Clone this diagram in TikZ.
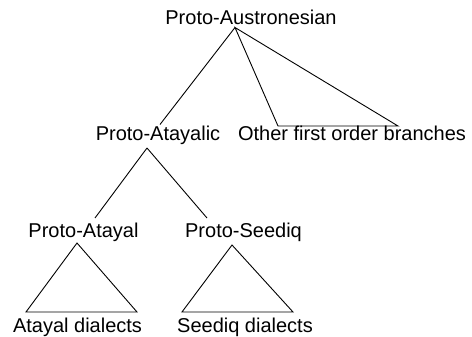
\documentclass[tikz,border=0pt]{standalone}
\usepackage{fontspec}
\setmainfont{Liberation Sans}
\begin{document}
\begin{tikzpicture}[x=1pt,y=-1pt,
  lbl/.style={font=\fontsize{20}{22}\selectfont, inner sep=0pt, anchor=base},
  edge/.style={line width=0.9pt, line join=miter}]
\useasboundingbox (0,0) rectangle (472,337);

% labels
\node[lbl] (pan)   at (251,25)  {Proto-Austronesian};
\node[lbl] (pat)   at (158,141) {Proto-Atayalic};
\node[lbl] (other) at (352,141) {Other first order branches};
\node[lbl] (pa)    at (83.5,237) {Proto-Atayal};
\node[lbl] (ps)    at (243.5,237) {Proto-Seediq};
\node[lbl] (ad)    at (77.5,332) {Atayal dialects};
\node[lbl] (sd)    at (245,332) {Seediq dialects};

% branching points and triangle corners
\coordinate (panfoot) at (235,27.5);
\coordinate (pattop)  at (160,124.5);
\coordinate (obl)     at (278,126);
\coordinate (obr)     at (398,126);
\coordinate (patfoot) at (147,148);
\coordinate (patop)   at (95,218);
\coordinate (pstop)   at (207,218);
\coordinate (pafoot)  at (77,243);
\coordinate (adl)     at (26,312);
\coordinate (adr)     at (137,312);
\coordinate (psfoot)  at (232,245);
\coordinate (sdl)     at (182,312);
\coordinate (sdr)     at (293,312);

% tree
\draw[edge] (panfoot) -- (pattop);
\draw[edge] (panfoot) -- (obl) -- (obr) -- cycle;
\draw[edge] (patfoot) -- (patop);
\draw[edge] (patfoot) -- (pstop);
\draw[edge] (pafoot) -- (adl) -- (adr) -- cycle;
\draw[edge] (psfoot) -- (sdl) -- (sdr) -- cycle;
\end{tikzpicture}
\end{document}
